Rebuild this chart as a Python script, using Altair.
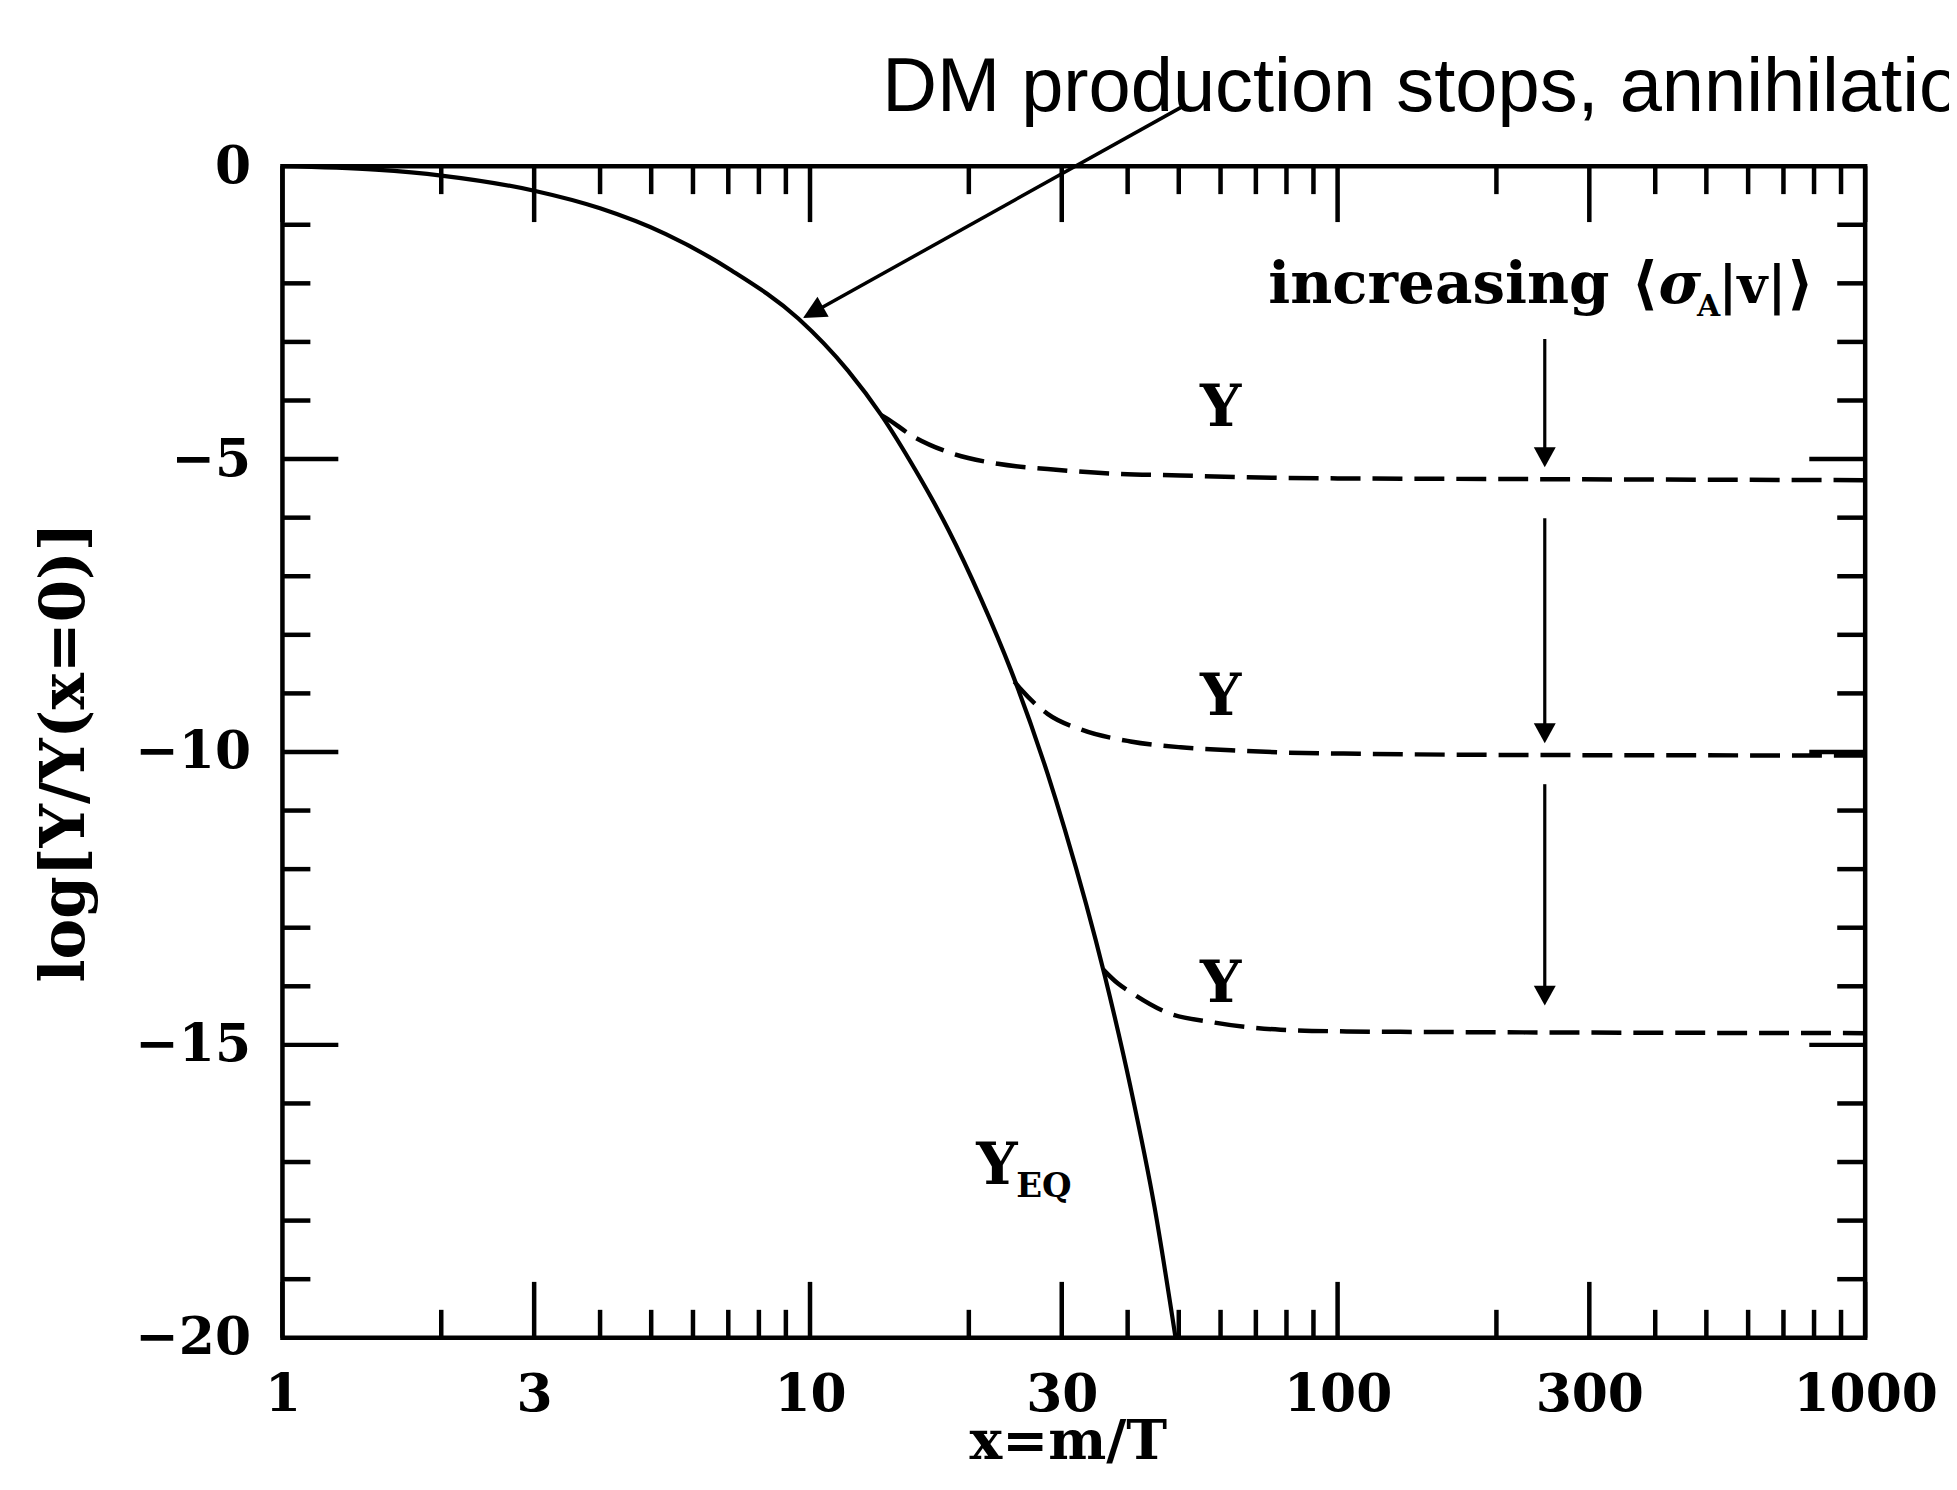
import altair as alt
import pandas as pd

# ---------------- data ----------------
# equilibrium curve Y_EQ (solid)
eq_x = [1, 1.5, 2, 3, 4, 5.33, 7.1, 9.5, 11.8, 13.65, 15.8, 17.0, 18.3, 21.1, 24.0, 28.2, 30.4, 36.2, 40.5, 45.0, 49.3]
eq_y = [0, -0.06, -0.16, -0.42, -0.72, -1.16, -1.78, -2.6, -3.49, -4.25, -5.17, -5.67, -6.21, -7.39, -8.59, -10.37, -11.32, -13.82, -15.72, -17.78, -20.0]

# frozen-out abundances Y (dashed), three cross sections
ya_x = [13.65, 13.95, 15.6, 18.4, 22.7, 28.2, 37.8, 50.4, 67.5, 100, 200, 400, 1000]
ya_y = [-4.25, -4.30, -4.60, -4.89, -5.08, -5.17, -5.25, -5.28, -5.31, -5.33, -5.34, -5.35, -5.36]

yb_x = [24.4, 25.1, 28.2, 32.7, 40.5, 50.4, 62.8, 80, 110, 200, 1000]
yb_y = [-8.80, -8.93, -9.35, -9.62, -9.82, -9.92, -9.97, -10.01, -10.03, -10.05, -10.06]

yc_x = [36.0, 38.3, 40.5, 47, 58.5, 77.9, 104, 150, 300, 1000]
yc_y = [-13.72, -13.95, -14.10, -14.43, -14.62, -14.74, -14.77, -14.78, -14.79, -14.80]

# axis ticks
x_labels = [1, 3, 10, 30, 100, 300, 1000]
x_minor = [2, 4, 5, 6, 7, 8, 9, 20, 40, 50, 60, 70, 80, 90, 200, 400, 500, 600, 700, 800, 900]
y_labels = [0, -5, -10, -15, -20]
y_major = [-5, -10, -15]
y_minor = [-1, -2, -3, -4, -6, -7, -8, -9, -11, -12, -13, -14, -16, -17, -18, -19]

# annotations (data coordinates)
lab_text = ["Y", "Y", "Y", "Y", "increasing", "\u27e8", "|v|", "\u27e9"]
lab_x = [60, 60, 60, 22.6, 73.9, 360.6, 527, 712]
lab_y = [-4.43, -9.37, -14.26, -17.38, -2.33, -2.33, -2.33, -2.33]
lab_align = ["center", "center", "center", "center", "left", "left", "left", "left"]
lab_size = [58, 58, 58, 58, 58, 58, 52, 58]

sigma_text, sigma_x, sigma_y = ["\u03c3"], [405.9], [-2.33]
sub_text = ["A", "EQ"]
sub_x = [480, 24.6]
sub_y = [-2.55, -17.6]
sub_size = [30, 34]

note_text = ["DM production stops, annihilation continues"]
note_x, note_y = [13.7], [0.94]

# arrows: (x_tail, y_tail) -> (x_tip, y_tip)
diag_tail = (50.4, 1.0)
diag_end = (10.17, -2.49)
diag_tip = (9.7, -2.59)
varrow_x = [247, 247, 247]
varrow_top = [-2.95, -6.01, -10.55]
varrow_end = [-4.95, -9.62, -14.1]
varrow_tip = [-5.14, -9.85, -14.33]

# ---------------- layout / style ----------------
W, H = 1586, 1174
MAJ, MIN = 56, 28
SERIF = "DejaVu Serif"
SANS = "Liberation Sans"
LW = 4.5

xs = alt.Scale(type="log", domain=[1, 1000], nice=False)
ys = alt.Scale(domain=[-20, 0], nice=False, zero=False)

x_axis = alt.Axis(values=x_labels, format="d", ticks=False, tickSize=0, domain=False, grid=False,
                  labelFont=SERIF, labelFontSize=52, labelFontWeight="bold", labelColor="black",
                  labelPadding=32, labelFlush=False, labelOverlap=False, labelBound=False,
                  title="x=m/T", titleFont=SERIF, titleFontSize=55, titleFontWeight="bold",
                  titleColor="black", titleX=787, titleY=121, titleAlign="center",
                  titleBaseline="alphabetic")
y_axis = alt.Axis(values=y_labels, format="d", ticks=False, tickSize=0, domain=False, grid=False,
                  labelFont=SERIF, labelFontSize=52, labelFontWeight="bold", labelColor="black",
                  labelPadding=32, labelFlush=False, labelOverlap=False,
                  title="log[Y/Y(x=0)]", titleFont=SERIF, titleFontSize=61, titleFontWeight="bold",
                  titleColor="black", titleX=-217, titleY=587, titleAngle=270,
                  titleAlign="center", titleBaseline="middle")


def X(field="x"):
    return alt.X(f"{field}:Q", scale=xs, axis=x_axis)


def Y(field="y"):
    return alt.Y(f"{field}:Q", scale=ys, axis=y_axis)


eq_df = pd.DataFrame({"x": eq_x, "y": eq_y})
solid = alt.Chart(eq_df).mark_line(color="black", strokeWidth=4.2, interpolate="monotone").encode(
    x=X(), y=Y())

dash_df = pd.concat([
    pd.DataFrame({"x": ya_x, "y": ya_y, "c": "a"}),
    pd.DataFrame({"x": yb_x, "y": yb_y, "c": "b"}),
    pd.DataFrame({"x": yc_x, "y": yc_y, "c": "c"}),
])
dashed = alt.Chart(dash_df).mark_line(color="black", strokeWidth=4.5, strokeDash=[30, 12],
                                      interpolate="monotone").encode(
    x=X(), y=Y(), detail="c:N")

layers = [solid, dashed]


# inward ticks on all four sides
def xticks(vals, length):
    d = pd.DataFrame({"x": vals})
    bot = alt.Chart(d).mark_rule(color="black", strokeWidth=LW).encode(
        x=X(), y=alt.value(H), y2=alt.value(H - length))
    top = alt.Chart(d).mark_rule(color="black", strokeWidth=LW).encode(
        x=X(), y=alt.value(0), y2=alt.value(length))
    return [bot, top]


def yticks(vals, length):
    d = pd.DataFrame({"y": vals})
    left = alt.Chart(d).mark_rule(color="black", strokeWidth=LW).encode(
        y=Y(), x=alt.value(0), x2=alt.value(length))
    right = alt.Chart(d).mark_rule(color="black", strokeWidth=LW).encode(
        y=Y(), x=alt.value(W), x2=alt.value(W - length))
    return [left, right]


layers += xticks(x_labels, MAJ) + xticks(x_minor, MIN) + yticks(y_major, MAJ) + yticks(y_minor, MIN)

# text annotations
lab_df = pd.DataFrame({"t": lab_text, "x": lab_x, "y": lab_y, "a": lab_align, "s": lab_size})
for i in range(len(lab_text)):
    layers.append(alt.Chart(lab_df.iloc[[i]]).mark_text(
        font=SERIF, fontSize=int(lab_size[i]), fontWeight="bold", color="black",
        align=lab_align[i], baseline="alphabetic"
    ).encode(x=X(), y=Y(), text="t:N"))

layers.append(alt.Chart(pd.DataFrame({"t": sigma_text, "x": sigma_x, "y": sigma_y})).mark_text(
    font=SERIF, fontSize=58, fontWeight="bold", fontStyle="italic", color="black",
    align="left", baseline="alphabetic").encode(x=X(), y=Y(), text="t:N"))

sub_df = pd.DataFrame({"t": sub_text, "x": sub_x, "y": sub_y, "s": sub_size})
for i in range(len(sub_text)):
    layers.append(alt.Chart(sub_df.iloc[[i]]).mark_text(
        font=SERIF, fontSize=int(sub_size[i]), fontWeight="bold", color="black",
        align="left", baseline="alphabetic").encode(x=X(), y=Y(), text="t:N"))

layers.append(alt.Chart(pd.DataFrame({"t": note_text, "x": note_x, "y": note_y})).mark_text(
    font=SANS, fontSize=76, color="black", align="left", baseline="alphabetic"
).encode(x=X(), y=Y(), text="t:N"))

# arrows
diag_df = pd.DataFrame({"x": [diag_tail[0]], "y": [diag_tail[1]],
                        "x2": [diag_end[0]], "y2": [diag_end[1]]})
layers.append(alt.Chart(diag_df).mark_rule(color="black", strokeWidth=3.5).encode(
    x=X(), y=Y(), x2="x2:Q", y2="y2:Q"))
HEAD = "M0,0 L-0.5,1 L0.5,1 Z"
layers.append(alt.Chart(pd.DataFrame({"x": [diag_tip[0]], "y": [diag_tip[1]]})).mark_point(
    shape=HEAD, size=2116, angle=240.8, filled=True, color="black", opacity=1, strokeWidth=0
).encode(x=X(), y=Y()))

v_df = pd.DataFrame({"x": varrow_x, "y": varrow_top, "y2": varrow_end, "tip": varrow_tip})
layers.append(alt.Chart(v_df).mark_rule(color="black", strokeWidth=3.2).encode(
    x=X(), y=Y(), y2="y2:Q"))
VHEAD = "M0,0 L-0.55,1 L0.55,1 Z"
layers.append(alt.Chart(v_df).mark_point(
    shape=VHEAD, size=1600, angle=180, filled=True, color="black", opacity=1, strokeWidth=0
).encode(x=X(), y=Y("tip")))

chart = alt.layer(*layers).properties(
    width=W, height=H,
    background="white",
    autosize=alt.AutoSizeParams(type="none"),
    padding={"left": 275, "top": 157, "right": 84, "bottom": 133},
).configure_view(stroke="black", strokeWidth=LW)

chart.save("out.html", embed_options={"renderer": "svg", "actions": False})
